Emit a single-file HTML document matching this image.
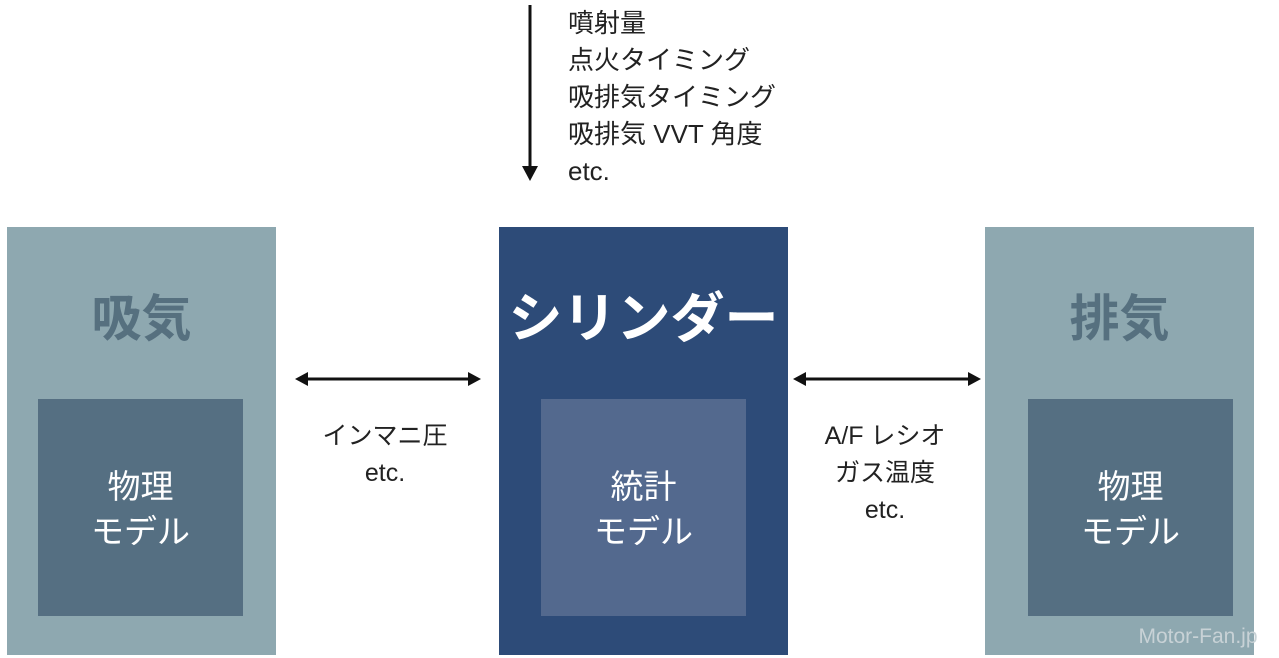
<!DOCTYPE html>
<html><head><meta charset="utf-8"><style>
body{margin:0;width:1279px;height:658px;background:#fff;position:relative;overflow:hidden;font-family:"Liberation Sans","Noto Sans CJK JP",sans-serif}
.a{position:absolute}
.t{position:absolute;text-align:center;line-height:1}
</style></head><body>
<div class="a" style="left:7px;top:227px;width:269px;height:428px;background:#8ea8b0"></div>
<div class="a" style="left:38px;top:399px;width:205px;height:217px;background:#556f82"></div>
<div class="a" style="left:499px;top:227px;width:289px;height:428px;background:#2d4b78"></div>
<div class="a" style="left:541px;top:399px;width:205px;height:217px;background:#53698e"></div>
<div class="a" style="left:985px;top:227px;width:269px;height:428px;background:#8ea8b0"></div>
<div class="a" style="left:1028px;top:399px;width:205px;height:217px;background:#556f82"></div>

<div class="t" style="left:7px;width:269px;top:294px;font-size:50px;font-weight:bold;color:#56707f">吸気</div>
<div class="t" style="left:499px;width:289px;top:292px;font-size:54px;font-weight:bold;color:#fff">シリンダー</div>
<div class="t" style="left:985px;width:269px;top:294px;font-size:50px;font-weight:bold;color:#56707f">排気</div>

<div class="t" style="left:38px;width:205px;top:464px;font-size:33px;line-height:45px;color:#fff">物理<br>モデル</div>
<div class="t" style="left:541px;width:205px;top:464px;font-size:33px;line-height:45px;color:#fff">統計<br>モデル</div>
<div class="t" style="left:1028px;width:205px;top:464px;font-size:33px;line-height:45px;color:#fff">物理<br>モデル</div>

<div class="t" style="left:300px;width:170px;top:418px;font-size:25px;line-height:37px;color:#222">インマニ圧<br>etc.</div>
<div class="t" style="left:800px;width:170px;top:418px;font-size:25px;line-height:37px;color:#222">A/F レシオ<br>ガス温度<br>etc.</div>
<div class="a" style="left:568px;top:5px;font-size:26px;line-height:37px;color:#222">噴射量<br>点火タイミング<br>吸排気タイミング<br>吸排気 VVT 角度<br>etc.</div>

<svg class="a" style="left:0;top:0" width="1279" height="658">
<g stroke="#111" stroke-width="3" fill="#111">
<line x1="530" y1="5" x2="530" y2="168"/><polygon points="522,166 538,166 530,181" stroke="none"/>
<line x1="305" y1="379" x2="470" y2="379"/><polygon points="295,379 308,372 308,386" stroke="none"/><polygon points="481,379 468,372 468,386" stroke="none"/>
<line x1="803" y1="379" x2="970" y2="379"/><polygon points="793,379 806,372 806,386" stroke="none"/><polygon points="981,379 968,372 968,386" stroke="none"/>
</g>
<text x="1198" y="643" font-size="21" fill="#c8d2d6" text-anchor="middle" font-family="Liberation Sans">Motor-Fan.jp</text>
</svg>
</body></html>
